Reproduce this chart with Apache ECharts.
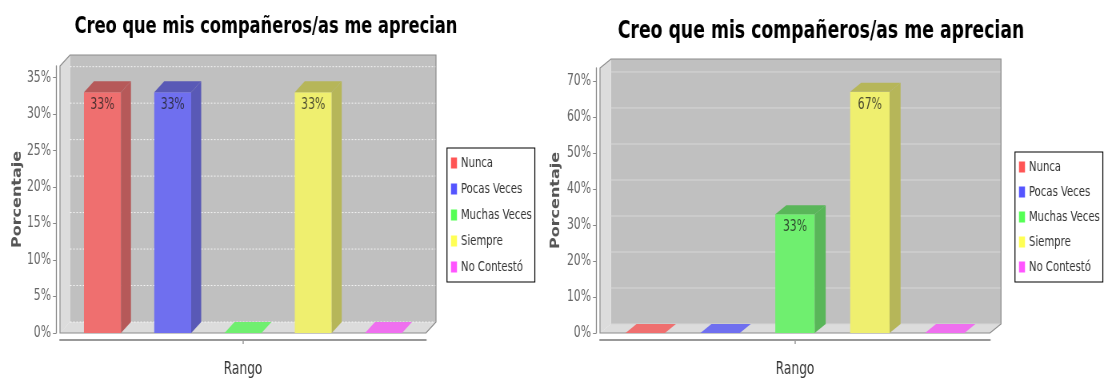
<!DOCTYPE html>
<html>
<head>
<meta charset="utf-8">
<script src="https://cdn.jsdelivr.net/npm/echarts@6/dist/echarts.min.js"></script>
<style>
  html, body { margin: 0; padding: 0; background: #ffffff; overflow: hidden; }
  #wrap { width: 1109px; height: 383px; overflow: hidden; }
  /* the chart is laid out wide and squeezed horizontally for a narrow type look */
  #chart { width: 1387px; height: 383px; transform: scaleX(0.8); transform-origin: 0 0; }
</style>
</head>
<body>
<div id="wrap"><div id="chart"></div></div>
<script>
// Survey answers, in percent, for the two groups
const categories = ['Nunca', 'Pocas Veces', 'Muchas Veces', 'Siempre', 'No Contestó'];
const leftValues = [33, 33, 0, 33, 0];
const rightValues = [0, 0, 33, 67, 0];
const leftTicks = [0, 5, 10, 15, 20, 25, 30, 35];
const rightTicks = [0, 10, 20, 30, 40, 50, 60, 70];
const chartTitle = 'Creo que mis compañeros/as me aprecian';
const xName = 'Rango';
const yName = 'Porcentaje';

const S = 0.8;                       // horizontal squeeze applied by CSS
const sx = function (v) { return v / S; };
const NARROW = '"DejaVu Sans Condensed", "DejaVu Sans", sans-serif';
const legendColors = ['#ff5555', '#5555ff', '#55ff55', '#ffff55', '#ff55ff'];
const frontColors = ['#ef6f6f', '#6f6fef', '#6fef6f', '#efef6f', '#ef6fef'];
const sideColors = ['#b65959', '#5959b6', '#59b659', '#b6b659', '#b659b6'];

// Layout of the two 3D bar panels (screen pixels)
const panels = [
  {
    values: leftValues, ticks: leftTicks, max: 36.6,
    grid: { left: 60, top: 66, width: 366, height: 267 },
    dx: 10, dy: 11, dashed: true,
    titleX: 266, titleY: 27, titleSize: 22.6,
    legend: { left: 447, top: 148 }, legendGap: 10,
    yNameGap: 40
  },
  {
    values: rightValues, ticks: rightTicks, max: 73.6,
    grid: { left: 600, top: 68, width: 390, height: 266 },
    dx: 11, dy: 9, dashed: false,
    titleX: 821, titleY: 32, titleSize: 24,
    legend: { left: 1015, top: 152 }, legendGap: 9,
    yNameGap: 42
  }
];

// Back wall, side wall, floor and grid lines of a 3D plot box
function wallRenderer(p) {
  return function (params, api) {
    const cs = params.coordSys;
    const x = cs.x, y = cs.y, w = cs.width, h = cs.height, dx = sx(p.dx), dy = p.dy;
    const children = [];
    children.push({ type: 'rect', shape: { x: x + dx, y: y - dy, width: w, height: h },
      style: { fill: '#c0c0c0' } });
    children.push({ type: 'polygon',
      shape: { points: [[x, y + h], [x, y], [x + dx, y - dy], [x + dx, y + h - dy]] },
      style: { fill: '#dcdcdc' } });
    children.push({ type: 'polygon',
      shape: { points: [[x, y + h], [x + dx, y + h - dy], [x + w + dx, y + h - dy], [x + w, y + h]] },
      style: { fill: '#dcdcdc' } });
    p.ticks.forEach(function (t) {
      const yy = api.coord([0, t])[1] - dy;
      children.push({ type: 'line',
        shape: { x1: x + dx, y1: yy, x2: x + w + dx, y2: yy },
        style: p.dashed
          ? { stroke: 'rgba(255,255,255,0.85)', lineWidth: 1, lineDash: [2, 2] }
          : { stroke: '#d6d6d6', lineWidth: 1 } });
    });
    children.push({ type: 'polygon',
      shape: { points: [[x, y + h], [x, y], [x + dx, y - dy], [x + w + dx, y - dy], [x + w + dx, y + h - dy], [x + w, y + h]] },
      style: { fill: null, stroke: '#8c8c8c', lineWidth: 1.2 } });
    return { type: 'group', children: children };
  };
}

// One 3D bar: front face, right side, top, and its value label
function barRenderer(p, i) {
  return function (params, api) {
    const v = api.value(1);
    const base = api.coord([0, 0]);
    const top = api.coord([0, v]);
    const band = api.size([1, 0])[0];
    const bw = band * 0.101;
    const cx = base[0] + (i - 2) * band * 0.192;
    const x0 = cx - bw / 2, yb = base[1], yt = top[1], dx = sx(p.dx), dy = p.dy;
    const children = [];
    children.push({ type: 'rect', shape: { x: x0, y: yt, width: bw, height: yb - yt },
      style: { fill: frontColors[i] } });
    children.push({ type: 'polygon',
      shape: { points: [[x0 + bw, yb], [x0 + bw, yt], [x0 + bw + dx, yt - dy], [x0 + bw + dx, yb - dy]] },
      style: { fill: sideColors[i] } });
    children.push({ type: 'polygon',
      shape: { points: [[x0, yt], [x0 + dx, yt - dy], [x0 + bw + dx, yt - dy], [x0 + bw, yt]] },
      style: { fill: v > 0 ? sideColors[i] : frontColors[i] } });
    if (v > 0) {
      children.push({ type: 'text', x: cx, y: yt + 13,
        style: { text: v + '%', align: 'center', verticalAlign: 'middle',
          fontFamily: NARROW, fontSize: 15, fill: 'rgba(30,30,30,0.8)' } });
    }
    return { type: 'group', children: children };
  };
}

const option = {
  backgroundColor: '#ffffff',
  animation: false,
  graphic: panels.map(function (p) {
    return { type: 'text', x: sx(p.titleX), y: p.titleY, silent: true,
      style: { text: chartTitle, align: 'center', verticalAlign: 'middle',
        fontFamily: NARROW, fontWeight: 'bold', fontSize: p.titleSize, fill: '#000' } };
  }),
  legend: panels.map(function (p) {
    return {
      data: categories, orient: 'vertical', left: sx(p.legend.left), top: p.legend.top,
      icon: 'rect', itemWidth: sx(6), itemHeight: 11, itemGap: p.legendGap, selectedMode: false,
      padding: [7, sx(3), 7, sx(4)], borderColor: '#000', borderWidth: 1.2, backgroundColor: '#fff',
      textStyle: { fontFamily: NARROW, fontSize: 14, color: '#333', lineHeight: 16 }
    };
  }),
  grid: panels.map(function (p) {
    return { left: sx(p.grid.left), top: p.grid.top, width: sx(p.grid.width), height: p.grid.height };
  }),
  xAxis: panels.map(function (p, k) {
    return {
      gridIndex: k, type: 'category', data: [''], offset: 7,
      name: xName, nameLocation: 'middle', nameGap: 21,
      nameTextStyle: { fontFamily: NARROW, fontSize: 17, color: '#333' },
      axisLine: { onZero: false, lineStyle: { color: '#999', width: 2 } },
      axisTick: { show: true, alignWithLabel: true, length: 4, lineStyle: { color: '#999', width: 1.5 } },
      axisLabel: { show: false },
      splitLine: { show: false }
    };
  }),
  yAxis: panels.map(function (p, k) {
    return {
      gridIndex: k, type: 'value', min: 0, max: p.max, interval: p.ticks[1], offset: sx(4),
      name: yName, nameLocation: 'middle', nameGap: p.yNameGap, nameRotate: 90, nameMoveOverlap: false,
      nameTextStyle: { fontFamily: '"DejaVu Sans", sans-serif', fontWeight: 'bold', fontSize: 16, color: '#555' },
      axisLine: { show: true, lineStyle: { color: '#888', width: 1.3 } },
      axisTick: { show: true, length: sx(3), customValues: p.ticks, lineStyle: { color: '#888' } },
      axisLabel: { customValues: p.ticks, formatter: '{value}%', fontFamily: NARROW,
        fontSize: 15, color: '#666', margin: sx(5) },
      splitLine: { show: false }
    };
  }),
  series: []
};

panels.forEach(function (p, k) {
  option.series.push({
    type: 'custom', xAxisIndex: k, yAxisIndex: k, silent: true, z: 1,
    data: [[0, 0]], renderItem: wallRenderer(p)
  });
  categories.forEach(function (name, i) {
    option.series.push({
      type: 'custom', name: name, xAxisIndex: k, yAxisIndex: k, z: 2,
      itemStyle: { color: legendColors[i] },
      data: [[0, p.values[i]]], renderItem: barRenderer(p, i)
    });
  });
});

const chart = echarts.init(document.getElementById('chart'), null, { renderer: 'canvas' });
chart.setOption(option);
</script>
</body>
</html>
